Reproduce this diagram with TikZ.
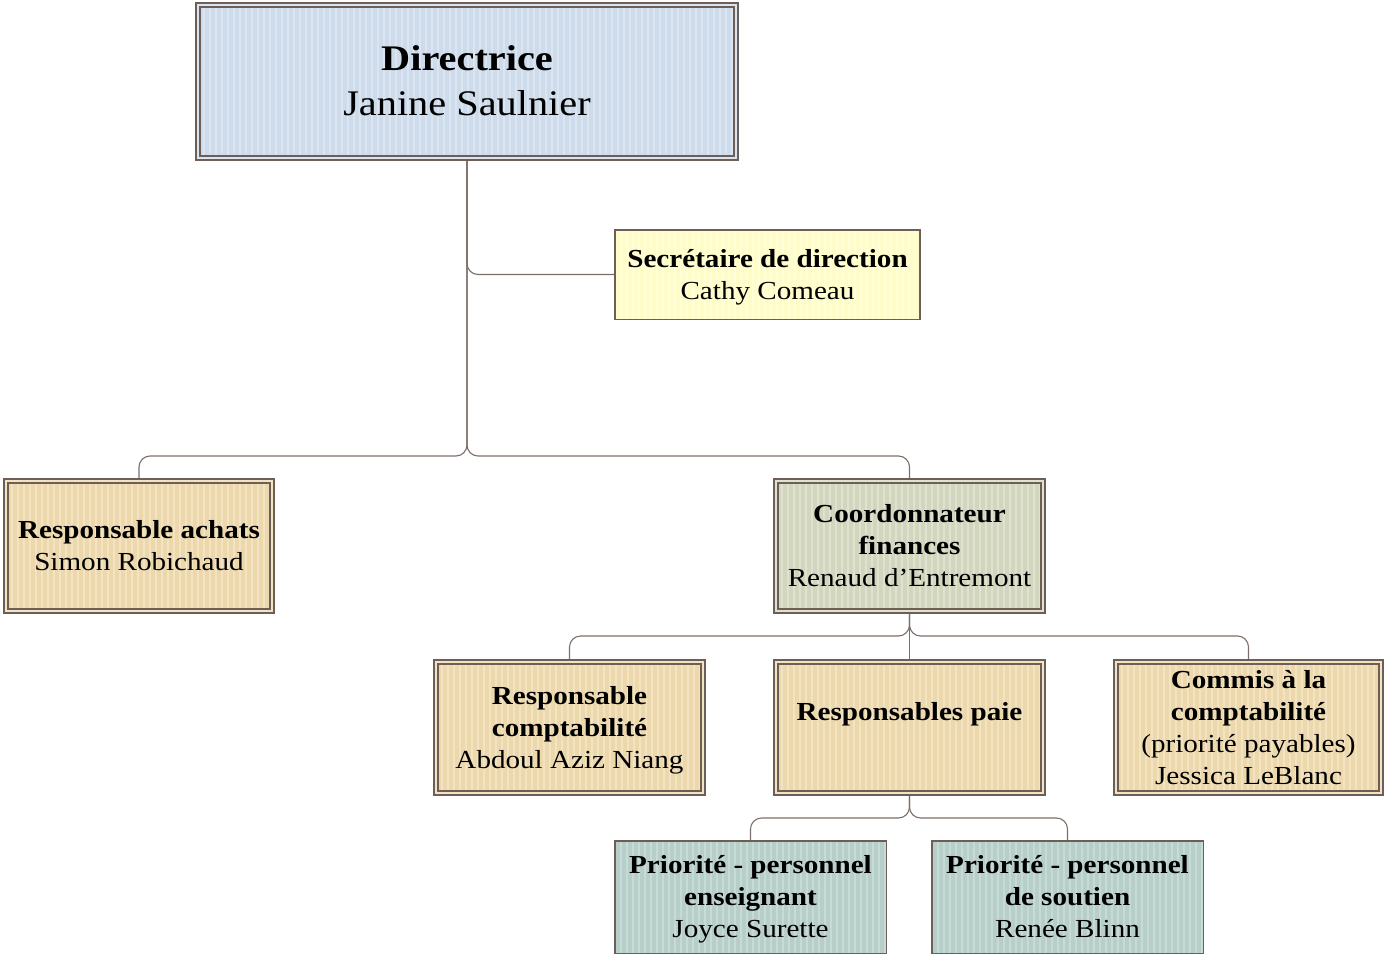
\documentclass[tikz,border=0pt]{standalone}
\usepackage{fontspec}
\setmainfont{Liberation Serif}[FakeStretch=1.12]
\usetikzlibrary{backgrounds}
\newcommand\mys{\rule[-7.1pt]{0pt}{32pt}}
\newcommand\myS{\rule[-11pt]{0pt}{45pt}}
\definecolor{bordc}{RGB}{110,94,88}
\definecolor{connc}{RGB}{125,110,105}
\definecolor{bluef}{RGB}{205,219,234}
\definecolor{blues}{RGB}{218,229,241}
\definecolor{yelf}{RGB}{254,252,200}
\definecolor{yels}{RGB}{255,254,214}
\definecolor{tanf}{RGB}{236,216,172}
\definecolor{tans}{RGB}{243,228,193}
\definecolor{grnf}{RGB}{210,214,190}
\definecolor{grns}{RGB}{222,226,206}
\definecolor{tealf}{RGB}{184,207,201}
\definecolor{teals}{RGB}{199,219,214}
\tikzset{
  box/.style={rectangle, inner sep=0pt, outer sep=0pt, align=center,
    font=\fontsize{26}{32}\selectfont, text=black},
  stripes/.style={path picture={\foreach \k in {0,6,...,560}
      \draw[#1, line width=2pt] ([xshift=\k pt]path picture bounding box.south west)
        -- ([xshift=\k pt]path picture bounding box.north west);}},
  dbl/.style={box, fill=#1f, stripes=#1s, draw=bordc, line width=1.5pt,
    double=#1s, double distance=2.6pt},
  sgl/.style={box, fill=#1f, stripes=#1s, draw=bordc, line width=1.5pt},
  conn/.style={draw=connc, line width=1.1pt, rounded corners=11pt},
}
\begin{document}
\begin{tikzpicture}[x=1pt,y=-1pt]
\useasboundingbox (0,0) rectangle (1384,958);
\node[dbl=blue, minimum width=538pt, minimum height=153pt,
  font=\fontsize{36}{45}\selectfont] (dir) at (467,81.5)
  {\myS\textbf{Directrice}\\Janine Saulnier\myS};
\node[sgl=yel, minimum width=305pt, minimum height=89.5pt] (sec) at (767.5,274.5)
  {\mys\textbf{Secrétaire de direction}\\Cathy Comeau\mys};
\node[dbl=tan, minimum width=266pt, minimum height=130pt] (ach) at (139,546)
  {\mys\textbf{Responsable achats}\\Simon Robichaud\mys};
\node[dbl=grn, minimum width=267pt, minimum height=130pt] (coord) at (909.5,546)
  {\mys\textbf{Coordonnateur}\\\textbf{finances}\\Renaud d’Entremont\mys};
\node[dbl=tan, minimum width=267pt, minimum height=131pt] (compta) at (569.5,727.5)
  {\mys\textbf{Responsable}\\\textbf{comptabilité}\\Abdoul Aziz Niang\mys};
\node[dbl=tan, minimum width=267pt, minimum height=131pt] (paie) at (909.5,727.5)
  {\mys\textbf{Responsables paie}\\\mys};
\node[dbl=tan, minimum width=265pt, minimum height=131pt] (commis) at (1248.5,727.5)
  {\mys\textbf{Commis à la}\\\textbf{comptabilité}\\(priorité payables)\\Jessica LeBlanc\mys};
\node[sgl=teal, minimum width=271.5pt, minimum height=112.5pt] (pens) at (750.5,897)
  {\mys\textbf{Priorité - personnel}\\\textbf{enseignant}\\Joyce Surette\mys};
\node[sgl=teal, minimum width=271.5pt, minimum height=112.5pt] (psout) at (1067.5,897)
  {\mys\textbf{Priorité - personnel}\\\textbf{de soutien}\\Renée Blinn\mys};
\coordinate (busA) at (467,456);
\coordinate (busB) at (909.5,636);
\coordinate (busC) at (909.5,818);
\begin{pgfonlayer}{background}
\draw[conn] (dir.south) |- (sec.west);
\draw[conn] (dir.south) -- (busA) -| (ach.north);
\draw[conn] (dir.south) -- (busA) -| (coord.north);
\draw[conn] (coord.south) -- (paie.north);
\draw[conn] (coord.south) -- (busB) -| (compta.north);
\draw[conn] (coord.south) -- (busB) -| (commis.north);
\draw[conn] (paie.south) -- (busC) -| (pens.north);
\draw[conn] (paie.south) -- (busC) -| (psout.north);
\end{pgfonlayer}
\end{tikzpicture}
\end{document}
